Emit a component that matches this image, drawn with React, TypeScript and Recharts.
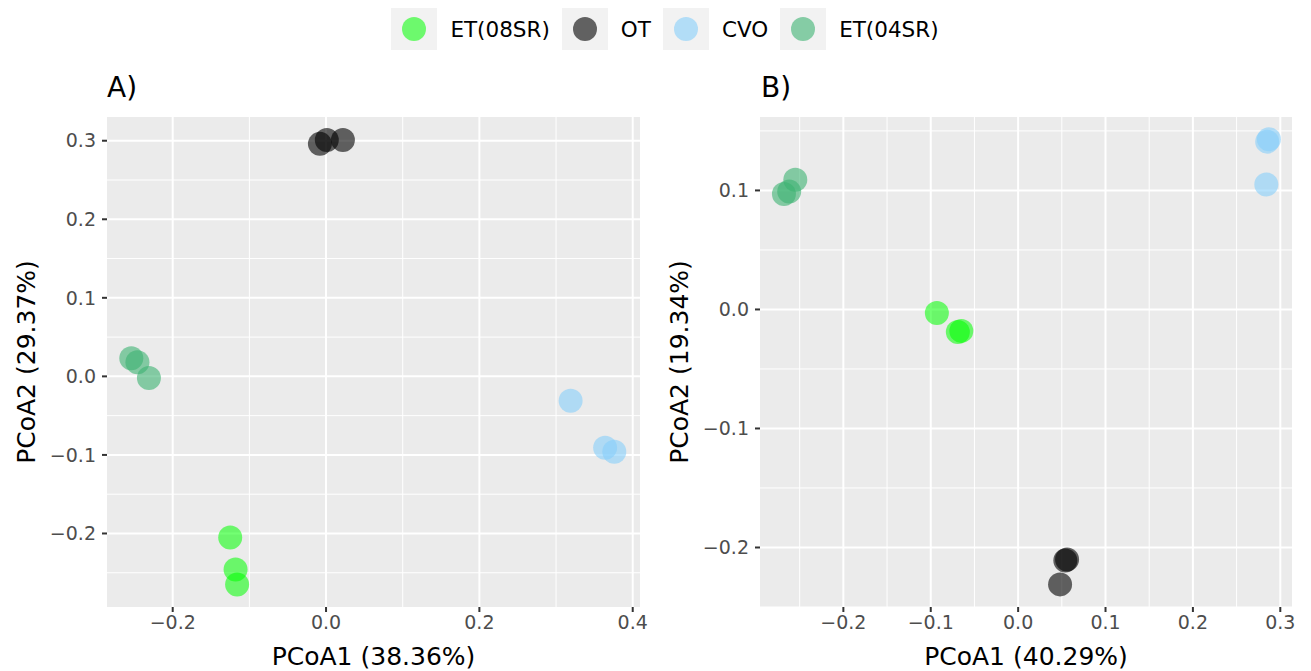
import { CartesianGrid, Label, Scatter, ScatterChart, XAxis, YAxis } from "recharts";

const FONT = "'DejaVu Sans', sans-serif";

// group styling
const GROUPS = [
  { name: "ET(08SR)", color: "#00ff00", opacity: 0.55 },
  { name: "OT", color: "#000000", opacity: 0.6 },
  { name: "CVO", color: "#87cefa", opacity: 0.6 },
  { name: "ET(04SR)", color: "#3cb371", opacity: 0.6 },
];

// panel A points
const et08A = [
  { x: -0.125, y: -0.205 },
  { x: -0.118, y: -0.246 },
  { x: -0.116, y: -0.265 },
];
const otA = [
  { x: -0.008, y: 0.296 },
  { x: 0.001, y: 0.301 },
  { x: 0.022, y: 0.301 },
];
const cvoA = [
  { x: 0.319, y: -0.031 },
  { x: 0.364, y: -0.091 },
  { x: 0.376, y: -0.096 },
];
const et04A = [
  { x: -0.254, y: 0.023 },
  { x: -0.246, y: 0.018 },
  { x: -0.231, y: -0.002 },
];

// panel B points
const et08B = [
  { x: -0.093, y: -0.003 },
  { x: -0.069, y: -0.019 },
  { x: -0.065, y: -0.018 },
];
const otB = [
  { x: 0.054, y: -0.211 },
  { x: 0.056, y: -0.21 },
  { x: 0.048, y: -0.231 },
];
const cvoB = [
  { x: 0.285, y: 0.141 },
  { x: 0.287, y: 0.143 },
  { x: 0.284, y: 0.105 },
];
const et04B = [
  { x: -0.268, y: 0.097 },
  { x: -0.262, y: 0.099 },
  { x: -0.255, y: 0.109 },
];

// axis ticks
const xTicksA = [-0.2, 0, 0.2, 0.4];
const xMinorA = [-0.1, 0.1, 0.3];
const yTicksA = [-0.2, -0.1, 0, 0.1, 0.2, 0.3];
const yMinorA = [-0.25, -0.15, -0.05, 0.05, 0.15, 0.25];

const xTicksB = [-0.2, -0.1, 0, 0.1, 0.2, 0.3];
const xMinorB = [-0.25, -0.15, -0.05, 0.05, 0.15, 0.25];
const yTicksB = [-0.2, -0.1, 0, 0.1];
const yMinorB = [-0.25, -0.15, -0.05, 0.05, 0.15];

const fmt = (v: number) => (v < 0 ? "\u2212" : "") + Math.abs(v).toFixed(1);

interface PanelProps {
  width: number;
  yAxisWidth: number;
  right: number;
  xDomain: [number, number];
  yDomain: [number, number];
  xTicks: number[];
  xMinor: number[];
  yTicks: number[];
  yMinor: number[];
  xTitle: string;
  yTitle: string;
  series: { x: number; y: number }[][];
}

const Panel = (p: PanelProps) => {
  const tickStyle = { fill: "#4d4d4d", fontSize: 19, fontFamily: FONT };
  return (
    <ScatterChart width={p.width} height={671} margin={{ top: 117, right: p.right, bottom: 0, left: 0 }}>
      <CartesianGrid fill="#ebebeb" fillOpacity={1} stroke="#ffffff" strokeWidth={1} horizontalValues={p.yMinor} verticalValues={p.xMinor} />
      <CartesianGrid stroke="#ffffff" strokeWidth={2} horizontalValues={p.yTicks} verticalValues={p.xTicks} />
      <XAxis
        type="number"
        dataKey="x"
        domain={p.xDomain}
        allowDataOverflow
        ticks={p.xTicks}
        tickFormatter={fmt}
        height={64}
        axisLine={false}
        tickSize={5}
        tickMargin={4}
        tickLine={{ stroke: "#333333", strokeWidth: 2 }}
        tick={tickStyle}
      >
        <Label
          content={(lp: any) => {
            const vb = lp.viewBox;
            return (
              <text x={vb.x + vb.width / 2} y={vb.y + 58} textAnchor="middle" fontSize={25} fontFamily={FONT} fill="#000">
                {p.xTitle}
              </text>
            );
          }}
        />
      </XAxis>
      <YAxis
        type="number"
        dataKey="y"
        domain={p.yDomain}
        allowDataOverflow
        ticks={p.yTicks}
        tickFormatter={fmt}
        width={p.yAxisWidth}
        axisLine={false}
        tickSize={5}
        tickMargin={6}
        tickLine={{ stroke: "#333333", strokeWidth: 2 }}
        tick={tickStyle}
      >
        <Label
          content={(lp: any) => {
            const vb = lp.viewBox;
            const cx = vb.x + p.yAxisWidth - 81;
            const cy = vb.y + vb.height / 2;
            return (
              <text
                x={cx}
                y={cy}
                transform={`rotate(-90 ${cx} ${cy})`}
                textAnchor="middle"
                dominantBaseline="central"
                fontSize={25}
                fontFamily={FONT}
                fill="#000"
              >
                {p.yTitle}
              </text>
            );
          }}
        />
      </YAxis>
      {p.series.map((data, i) => (
        <Scatter
          key={GROUPS[i].name}
          name={GROUPS[i].name}
          data={data}
          isAnimationActive={false}
          shape={(sp: any) => (
            <circle cx={sp.cx} cy={sp.cy} r={12} fill={GROUPS[i].color} fillOpacity={GROUPS[i].opacity} />
          )}
        />
      ))}
    </ScatterChart>
  );
};

const panelLabel = (left: number, text: string) => (
  <div style={{ position: "absolute", left, top: 74, fontSize: 28, lineHeight: 1, fontFamily: FONT, color: "#000" }}>
    {text}
  </div>
);

export default function App() {
  return (
    <div style={{ position: "absolute", left: 0, top: 0, width: 1311, height: 671, background: "#fff", fontFamily: FONT }}>
      <div
        style={{
          position: "absolute",
          left: 0,
          top: 8,
          width: 1311,
          height: 42,
          boxSizing: "border-box",
          paddingLeft: 19,
          display: "flex",
          justifyContent: "center",
          alignItems: "center",
          gap: 12,
        }}
      >
        {GROUPS.map((g) => (
          <div key={g.name} style={{ display: "flex", alignItems: "center" }}>
            <svg width={46} height={42} style={{ display: "block" }}>
              <rect x={0} y={0} width={46} height={42} fill="#f2f2f2" />
              <circle cx={23} cy={21} r={12} fill={g.color} fillOpacity={g.opacity} />
            </svg>
            <span style={{ marginLeft: 13, fontSize: 21.5, color: "#000" }}>{g.name}</span>
          </div>
        ))}
      </div>

      {panelLabel(107, "A)")}
      {panelLabel(761, "B)")}

      <div style={{ position: "absolute", left: 0, top: 0 }}>
        <Panel
          width={660}
          yAxisWidth={107}
          right={20}
          xDomain={[-0.2857, 0.4095]}
          yDomain={[-0.2936, 0.3302]}
          xTicks={xTicksA}
          xMinor={xMinorA}
          yTicks={yTicksA}
          yMinor={yMinorA}
          xTitle="PCoA1 (38.36%)"
          yTitle="PCoA2 (29.37%)"
          series={[et08A, otA, cvoA, et04A]}
        />
      </div>
      <div style={{ position: "absolute", left: 650, top: 0 }}>
        <Panel
          width={661}
          yAxisWidth={110}
          right={19}
          xDomain={[-0.2954, 0.3134]}
          yDomain={[-0.25, 0.1617]}
          xTicks={xTicksB}
          xMinor={xMinorB}
          yTicks={yTicksB}
          yMinor={yMinorB}
          xTitle="PCoA1 (40.29%)"
          yTitle="PCoA2 (19.34%)"
          series={[et08B, otB, cvoB, et04B]}
        />
      </div>
    </div>
  );
}
